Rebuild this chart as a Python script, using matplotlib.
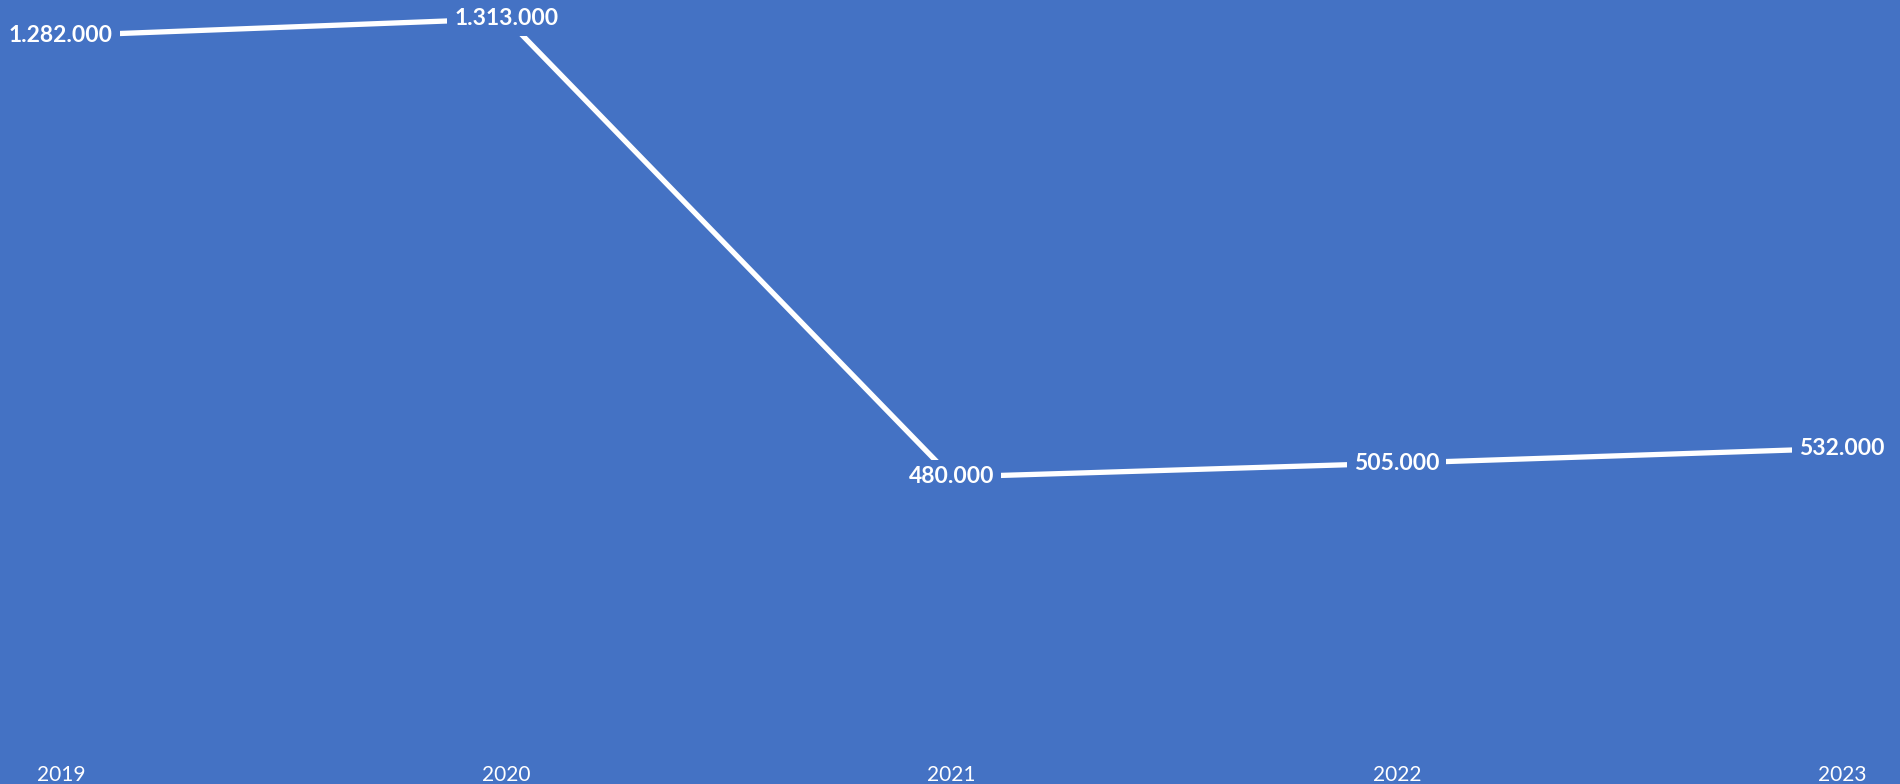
import matplotlib.pyplot as plt

years = ['2019', '2020', '2021', '2022', '2023']
values = [1282000, 1313000, 480000, 505000, 532000]
labels = ['1.282.000', '1.313.000', '480.000', '505.000', '532.000']

blue = '#4472C4'

fig = plt.figure(figsize=(19, 7.84), dpi=100, facecolor=blue)
ax = fig.add_axes([0, 1 - 741 / 784, 1, 741 / 784])
ax.set_facecolor(blue)

x = list(range(len(years)))
ax.plot(x, values, color='white', linewidth=3.8, solid_capstyle='butt', zorder=2)

for xi, v, lab in zip(x, values, labels):
    ax.text(xi, v, lab, ha='center', va='center', color='white', fontsize=16.5,
            fontweight='bold', family='Lato', zorder=3,
            bbox=dict(facecolor=blue, edgecolor='none', pad=5))

ax.set_xlim(-0.137, 4.130)
ax.set_ylim(0, 1347000)
ax.set_xticks(x)
ax.set_xticklabels(years, color='white', fontsize=15, family='Lato')
ax.tick_params(axis='x', length=0, pad=17)
ax.set_yticks([])
for s in ax.spines.values():
    s.set_visible(False)

fig.savefig('out.png', dpi=100, facecolor=blue)
